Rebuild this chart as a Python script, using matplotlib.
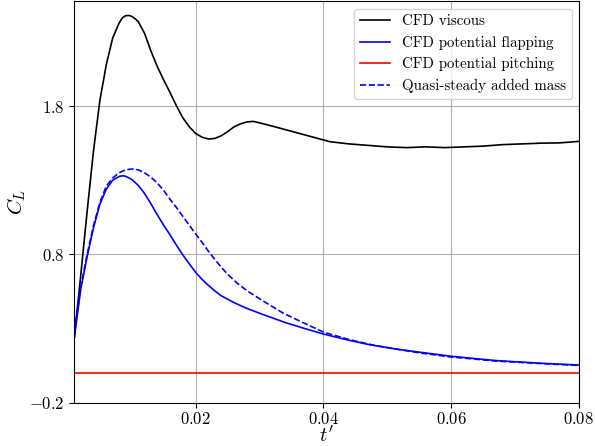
import numpy as np
import matplotlib
matplotlib.use('Agg')
import matplotlib.pyplot as plt
from matplotlib.ticker import FuncFormatter

t_visc = [0.001, 0.002, 0.003, 0.004, 0.005, 0.006, 0.007, 0.008, 0.0085, 0.009,
          0.0095, 0.010, 0.0105, 0.011, 0.012, 0.013, 0.014, 0.015, 0.016, 0.017,
          0.018, 0.019, 0.020, 0.021, 0.022, 0.023, 0.024, 0.025, 0.026, 0.027,
          0.028, 0.029, 0.030, 0.032, 0.035, 0.038, 0.041, 0.044, 0.047, 0.050,
          0.053, 0.056, 0.059, 0.062, 0.065, 0.068, 0.071, 0.074, 0.077, 0.080]
cl_visc = [0.24, 0.66, 1.09, 1.50, 1.84, 2.08, 2.26, 2.36, 2.395, 2.41,
           2.412, 2.405, 2.39, 2.37, 2.29, 2.17, 2.065, 1.975, 1.89, 1.80,
           1.72, 1.66, 1.615, 1.59, 1.578, 1.582, 1.60, 1.628, 1.66, 1.68,
           1.693, 1.697, 1.687, 1.665, 1.63, 1.595, 1.56, 1.545, 1.535, 1.525,
           1.52, 1.525, 1.52, 1.525, 1.53, 1.54, 1.545, 1.55, 1.552, 1.562]

t_flap = [0.001, 0.002, 0.003, 0.004, 0.005, 0.006, 0.007, 0.008, 0.0085, 0.009,
          0.010, 0.011, 0.012, 0.013, 0.014, 0.015, 0.016, 0.017, 0.018, 0.019,
          0.020, 0.021, 0.022, 0.023, 0.024, 0.026, 0.028, 0.0307, 0.034, 0.037,
          0.040, 0.044, 0.047, 0.051, 0.055, 0.060, 0.067, 0.074, 0.080]
cl_flap = [0.24, 0.565, 0.785, 0.98, 1.14, 1.24, 1.30, 1.325, 1.33, 1.327,
           1.305, 1.265, 1.21, 1.14, 1.065, 0.995, 0.93, 0.86, 0.795, 0.735,
           0.678, 0.63, 0.59, 0.553, 0.52, 0.474, 0.435, 0.391, 0.34, 0.30,
           0.262, 0.22, 0.192, 0.163, 0.14, 0.112, 0.083, 0.065, 0.053]

t_pitch = [0.001, 0.080]
cl_pitch = [0.0, 0.0]

t_qs = [0.001, 0.002, 0.003, 0.004, 0.005, 0.006, 0.007, 0.008, 0.009, 0.010,
        0.011, 0.012, 0.013, 0.014, 0.015, 0.016, 0.017, 0.018, 0.019, 0.020,
        0.021, 0.022, 0.023, 0.024, 0.025, 0.0265, 0.028, 0.0307, 0.0337, 0.037,
        0.040, 0.044, 0.048, 0.055, 0.060, 0.067, 0.074, 0.080]
cl_qs = [0.28, 0.58, 0.80, 0.995, 1.15, 1.26, 1.315, 1.35, 1.37, 1.376,
         1.37, 1.35, 1.32, 1.28, 1.23, 1.17, 1.115, 1.055, 0.995, 0.937,
         0.88, 0.82, 0.765, 0.713, 0.665, 0.605, 0.555, 0.481, 0.403, 0.335,
         0.275, 0.225, 0.185, 0.135, 0.107, 0.08, 0.063, 0.05]

plt.rcParams['font.family'] = 'serif'
plt.rcParams['font.serif'] = ['cmr10']
plt.rcParams['mathtext.fontset'] = 'cm'
plt.rcParams['axes.unicode_minus'] = False

fig, ax = plt.subplots(figsize=(5.95, 4.46), dpi=100)
fig.subplots_adjust(left=0.125, right=0.973, top=0.997, bottom=0.0975)

ax.plot(t_visc, cl_visc, c='k', lw=1.2, label='CFD viscous')
ax.plot(t_flap, cl_flap, c='b', lw=1.2, label='CFD potential flapping')
ax.plot(t_pitch, cl_pitch, c='r', lw=1.2, label='CFD potential pitching')
ax.plot(t_qs, cl_qs, c='b', lw=1.2, ls='--', label='Quasi-steady added mass')

ax.set_xlim(0.001, 0.08)
ax.set_ylim(-0.2, 2.507)
ax.set_xticks([0.02, 0.04, 0.06, 0.08])
ax.set_yticks([-0.2, 0.8, 1.8])
ax.xaxis.set_major_formatter(FuncFormatter(lambda v, p: r'$%.2f$' % v))
ax.yaxis.set_major_formatter(FuncFormatter(lambda v, p: r'$%.1f$' % v))
ax.tick_params(labelsize=12)
ax.tick_params(axis='x', pad=2.5)
ax.set_xlabel(r"$t'$", fontsize=14.5, labelpad=-1)
ax.set_ylabel(r'$C_L$', fontsize=15, labelpad=1)
ax.grid(True)
ax.legend(loc='upper right', fontsize=10.7)

plt.savefig('out.png', dpi=100)
